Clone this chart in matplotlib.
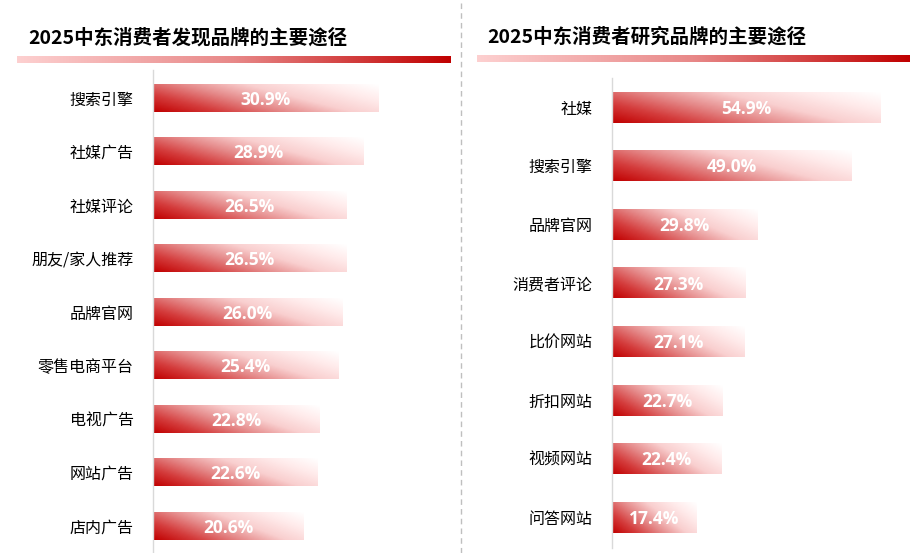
import numpy as np
import matplotlib
matplotlib.use('Agg')
import matplotlib.pyplot as plt
import matplotlib.transforms as mtransforms
from matplotlib.colors import LinearSegmentedColormap
from matplotlib.lines import Line2D

plt.rcParams['font.family'] = ['Noto Sans CJK SC', 'DejaVu Sans']

# data
left_title = '2025中东消费者发现品牌的主要途径'
left_cats = ['搜索引擎', '社媒广告', '社媒评论', '朋友/家人推荐', '品牌官网',
             '零售电商平台', '电视广告', '网站广告', '店内广告']
left_vals = [30.9, 28.9, 26.5, 26.5, 26.0, 25.4, 22.8, 22.6, 20.6]

right_title = '2025中东消费者研究品牌的主要途径'
right_cats = ['社媒', '搜索引擎', '品牌官网', '消费者评论', '比价网站',
              '折扣网站', '视频网站', '问答网站']
right_vals = [54.9, 49.0, 29.8, 27.3, 27.1, 22.7, 22.4, 17.4]

W, H = 916, 553
fig = plt.figure(figsize=(W / 100, H / 100), dpi=100)

bar_cmap = LinearSegmentedColormap.from_list(
    'bar', ['#c00000', '#d43c3c', '#e58a8a', '#f9cfcf', '#ffeaea', '#ffffff'])
rule_cmap = LinearSegmentedColormap.from_list('rule', ['#fdd0d0', '#e88888', '#c00000'])


def px_axes(x0, y0, x1, y1):
    # pixel box (top-left origin) -> figure axes
    return fig.add_axes([x0 / W, 1 - y1 / H, (x1 - x0) / W, (y1 - y0) / H])


def gradient_bar(ax, i, v, h):
    n, m = 40, 200
    s = np.linspace(0, 1, m)[None, :]
    t = np.linspace(0, 1, n)[:, None]
    g = 0.68 * s + 0.32 * t
    ax.imshow(g, cmap=bar_cmap, vmin=0, vmax=1, origin='lower', aspect='auto',
              extent=(0, v, i + h / 2, i - h / 2), interpolation='bilinear')


def panel(box, cats, vals, xmax, first_c, step, h_px, title, tpos, rule):
    x0, y0, x1, y1 = box
    ax = px_axes(x0, y0, x1, y1)
    n = len(cats)
    h = h_px / step
    for i, v in enumerate(vals):
        gradient_bar(ax, i, v, h)
        ax.text(v / 2, i + 0.03, f'{v:.1f}%', color='white', fontsize=12.5,
                fontweight='bold', ha='center', va='center', family='Open Sans')
    ax.set_xlim(0, xmax)
    ax.set_ylim((n - 1) + (y1 - (first_c + step * (n - 1))) / step,
                -(first_c - y0) / step)
    ax.set_yticks(range(n))
    ax.set_yticklabels(cats, fontsize=11.5)
    shift = mtransforms.ScaledTranslation(0, 3 / 100, fig.dpi_scale_trans)
    for lab in ax.get_yticklabels():
        lab.set_verticalalignment('center_baseline')
        lab.set_transform(lab.get_transform() + shift)
    ax.tick_params(axis='y', length=0, pad=14)
    ax.set_xticks([])
    for sp in ['top', 'right', 'bottom']:
        ax.spines[sp].set_visible(False)
    ax.spines['left'].set_color('#d9d9d9')
    ax.spines['left'].set_linewidth(1)
    ax.patch.set_alpha(0)

    fig.text(tpos[0] / W, 1 - tpos[1] / H, title, fontsize=14,
             fontweight='bold', ha='left', va='center')
    rx0, ry0, rx1, ry1 = rule
    rax = px_axes(rx0, ry0, rx1, ry1)
    rax.imshow(np.linspace(0, 1, 256)[None, :], cmap=rule_cmap, aspect='auto',
               extent=(0, 1, 0, 1))
    rax.axis('off')


panel((153, 70, 445, 553), left_cats, left_vals, 40, 98, 53.5, 28,
      left_title, (28, 38), (17, 56, 450, 63))
panel((612, 78, 905, 548), right_cats, right_vals, 60, 107, 58.6, 31,
      right_title, (487, 37), (477, 55, 910, 62))

fig.add_artist(Line2D([461 / W, 461 / W], [0, 1], color='#bfbfbf', lw=1,
                      linestyle=(0, (4, 3))))

fig.savefig('out.png', dpi=100, facecolor='white')
